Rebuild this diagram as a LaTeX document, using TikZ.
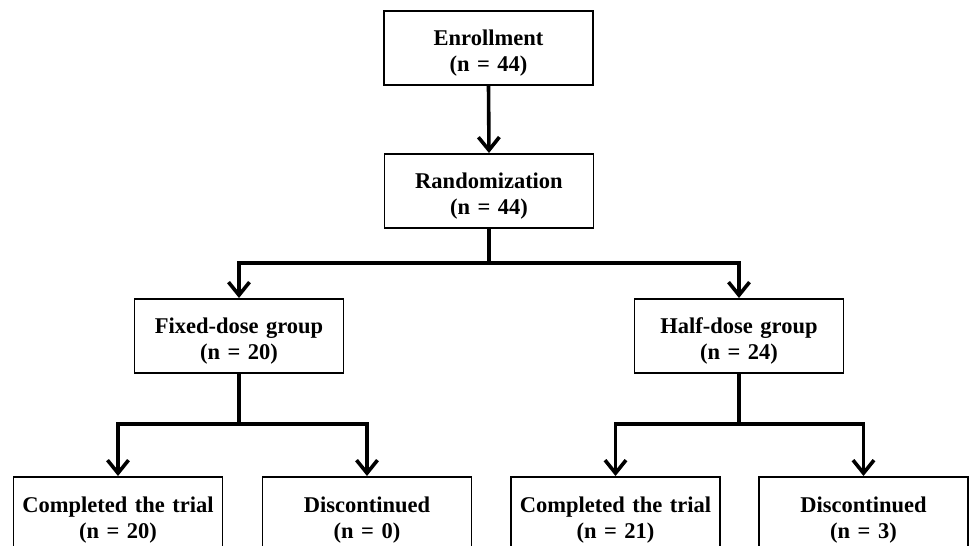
\documentclass[tikz,border=0pt]{standalone}
\usepackage{fontspec}
\setmainfont{Liberation Serif}
\usetikzlibrary{arrows.meta}
\newcommand{\topstrut}{\rule{0pt}{25.5pt}}
\begin{document}
\begin{tikzpicture}[x=1pt,y=-1pt,
  box/.style={draw=black, line width=1.8pt, anchor=north, minimum width=209pt, minimum height=74pt,
    text width=200pt, align=center, inner sep=0pt,
    font=\fontsize{22.5}{25.5}\selectfont\bfseries},
  link/.style={line width=3.6pt},
  conn/.style={line width=3.6pt, -{Straight Barb[length=13pt,width=21pt]}}]
\useasboundingbox (0,0) rectangle (969,546);
\clip (0,0) rectangle (969,546);
\node[box] (enr) at (488.5,10) {\topstrut Enrollment\\(n = 44)};
\node[box] (rand) at (489,153) {\topstrut Randomization\\(n = 44)};
\node[box] (fixed) at (239,298) {\topstrut Fixed-dose group\\(n = 20)};
\node[box] (half) at (739,298) {\topstrut Half-dose group\\(n = 24)};
\node[box, minimum height=76pt] (c1) at (118,476) {\topstrut Completed the trial\\(n = 20)};
\node[box, minimum height=76pt] (d1) at (367,476) {\topstrut Discontinued\\(n = 0)};
\node[box, minimum height=76pt] (c2) at (615.5,476) {\topstrut Completed the trial\\(n = 21)};
\node[box, minimum height=76pt] (d2) at (863.5,476) {\topstrut Discontinued\\(n = 3)};
\draw[conn] (enr.south) -- (rand.north);
\draw[link] (rand.south) -- ++(0,34) coordinate (j1);
\draw[conn] (j1) -| (fixed.north);
\draw[conn] (j1) -| (half.north);
\draw[link] (fixed.south) -- ++(0,50) coordinate (j2);
\draw[conn] (j2) -| (c1.north);
\draw[conn] (j2) -| (d1.north);
\draw[link] (half.south) -- ++(0,50) coordinate (j3);
\draw[conn] (j3) -| (c2.north);
\draw[conn] (j3) -| (d2.north);
\end{tikzpicture}
\end{document}
